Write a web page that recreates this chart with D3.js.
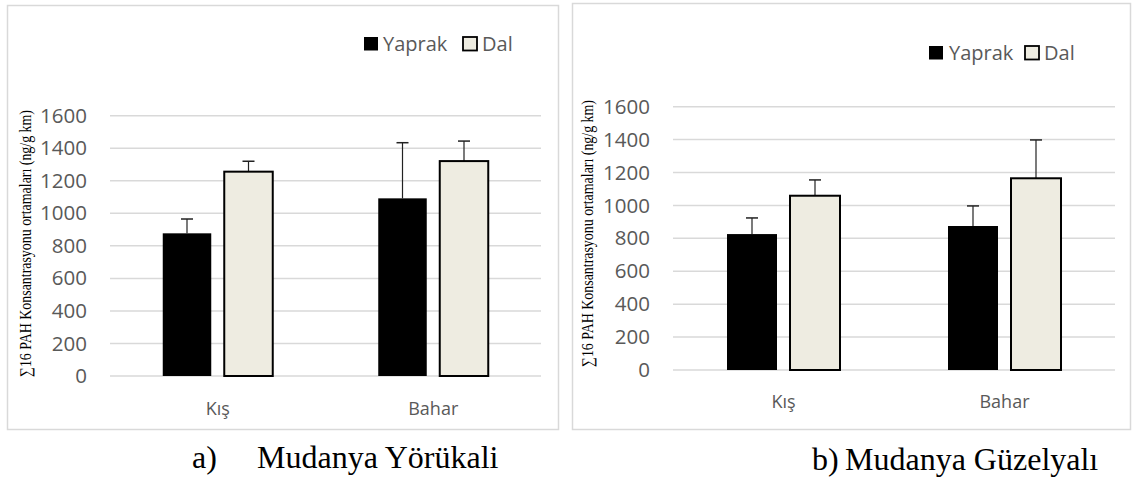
<!DOCTYPE html>
<html><head><meta charset="utf-8">
<script src="https://cdn.jsdelivr.net/npm/d3@7"></script>
<style>body{margin:0;background:#fff}svg{display:block}</style>
</head><body>
<svg id="c" width="1138" height="483"></svg>
<script>
const categories = ["Kış", "Bahar"];
const seriesNames = ["Yaprak", "Dal"];
const yTicks = [0, 200, 400, 600, 800, 1000, 1200, 1400, 1600];
// a) Mudanya Yörükali
const yorukaliYaprak = [877, 1092];
const yorukaliYaprakErr = [88, 342];
const yorukaliDal = [1256, 1321];
const yorukaliDalErr = [64, 123];
// b) Mudanya Güzelyalı
const guzelyaliYaprak = [826, 875];
const guzelyaliYaprakErr = [98, 122];
const guzelyaliDal = [1059, 1165];
const guzelyaliDalErr = [96, 233];
const captions = [["a)", "Mudanya Yörükali"], ["b)", "Mudanya Güzelyalı"]];
const yTitle = "∑16 PAH Konsantrasyonu ortamaları (ng/g km)";

const svg = d3.select("#c");
const fills = {Yaprak: "#000000", Dal: "#eeece1"};

const panels = [
  {box: [7, 5, 551, 424], plot: [110, 541], y0: 376, y1: 115.7, tickX: 87, titleX: 31, titleY: [110, 377],
   half: 55, gap: 13, legend: {y: 37, items: [[364, 383], [463, 482]]}, catY: 415,
   cap: {ax: 192, tx: 257, y: 468},
   yap: yorukaliYaprak, yapE: yorukaliYaprakErr, dal: yorukaliDal, dalE: yorukaliDalErr, caption: captions[0]},
  {box: [572, 3, 558, 426], plot: [673, 1115], y0: 370, y1: 106.7, tickX: 650, titleX: 593, titleY: [100, 367],
   half: 56.5, gap: 13, legend: {y: 46, items: [[929, 949], [1025, 1044]]}, catY: 408,
   cap: {ax: 812, tx: 845, y: 470},
   yap: guzelyaliYaprak, yapE: guzelyaliYaprakErr, dal: guzelyaliDal, dalE: guzelyaliDalErr, caption: captions[1]}
];

panels.forEach(p => {
  const g = svg.append("g");
  g.append("rect").attr("x", p.box[0] + 0.5).attr("y", p.box[1] + 0.5)
    .attr("width", p.box[2]).attr("height", p.box[3])
    .attr("fill", "#fff").attr("stroke", "#d9d9d9").attr("stroke-width", 1.5);

  const y = d3.scaleLinear().domain([0, 1600]).range([p.y0, p.y1]);
  const x0 = d3.scaleBand().domain(categories).range(p.plot).padding(0);
  const step = (2 * p.half + p.gap) / 2;
  const x1 = d3.scaleBand().domain(seriesNames).range([-p.half, p.half]).paddingInner(p.gap / step).paddingOuter(0);

  g.selectAll(".grid").data(yTicks).join("line")
    .attr("x1", p.plot[0]).attr("x2", p.plot[1])
    .attr("y1", d => y(d)).attr("y2", d => y(d))
    .attr("stroke", "#d9d9d9").attr("stroke-width", 1.5);

  const ax = g.append("g").attr("transform", `translate(${p.tickX},0)`)
    .call(d3.axisLeft(y).tickValues(yTicks).tickSize(0).tickPadding(0).tickFormat(d3.format("d")));
  ax.select(".domain").remove();
  ax.selectAll("text").attr("font-family", "Open Sans").attr("font-size", 20.5).attr("fill", "#595959");

  const bx = g.append("g").attr("transform", `translate(0,${p.catY})`)
    .call(d3.axisBottom(x0).tickSize(0).tickPadding(0));
  bx.select(".domain").remove();
  bx.selectAll("text").attr("font-family", "Open Sans").attr("font-size", 18).attr("fill", "#595959").attr("dy", "0");

  const data = categories.map((c, i) => ({c, vals: [
    {s: "Yaprak", v: p.yap[i], e: p.yapE[i]},
    {s: "Dal", v: p.dal[i], e: p.dalE[i]}]}));

  const grp = g.selectAll(".cat").data(data).join("g")
    .attr("transform", d => `translate(${x0(d.c) + x0.bandwidth() / 2},0)`);

  grp.selectAll(".err").data(d => d.vals).join("g").each(function(d) {
    const cx = x1(d.s) + x1.bandwidth() / 2;
    const s = d3.select(this);
    s.append("line").attr("x1", cx).attr("x2", cx).attr("y1", y(d.v)).attr("y2", y(d.v + d.e))
      .attr("stroke", "#222").attr("stroke-width", 1.2);
    s.append("line").attr("x1", cx - 6).attr("x2", cx + 6).attr("y1", y(d.v + d.e)).attr("y2", y(d.v + d.e))
      .attr("stroke", "#222").attr("stroke-width", 1.5);
  });

  grp.selectAll(".bar").data(d => d.vals).join("rect")
    .attr("x", d => x1(d.s)).attr("width", x1.bandwidth())
    .attr("y", d => y(d.v)).attr("height", d => y(0) - y(d.v))
    .attr("fill", d => fills[d.s])
    .attr("stroke", d => d.s === "Dal" ? "#000" : "none").attr("stroke-width", 2);

  seriesNames.forEach((s, i) => {
    const [rx, tx] = p.legend.items[i];
    g.append("rect").attr("x", rx).attr("y", p.legend.y).attr("width", 14).attr("height", 13.5)
      .attr("fill", fills[s]).attr("stroke", s === "Dal" ? "#000" : "none").attr("stroke-width", 1.8);
    g.append("text").attr("x", tx).attr("y", p.legend.y + 14).text(s)
      .attr("font-family", "Open Sans").attr("font-size", 20).attr("fill", "#595959");
  });

  const ty = (p.titleY[0] + p.titleY[1]) / 2;
  g.append("text").attr("transform", `translate(${p.titleX},${ty}) rotate(-90)`)
    .attr("text-anchor", "middle").attr("font-family", "Liberation Serif").attr("font-size", 16)
    .attr("textLength", p.titleY[1] - p.titleY[0]).attr("lengthAdjust", "spacingAndGlyphs")
    .attr("fill", "#000").text(yTitle);

  g.append("text").attr("x", p.cap.ax).attr("y", p.cap.y).text(p.caption[0])
    .attr("font-family", "Liberation Serif").attr("font-size", 32).attr("fill", "#000");
  g.append("text").attr("x", p.cap.tx).attr("y", p.cap.y).text(p.caption[1])
    .attr("font-family", "Liberation Serif").attr("font-size", 32).attr("fill", "#000");
});
</script>
</body></html>
